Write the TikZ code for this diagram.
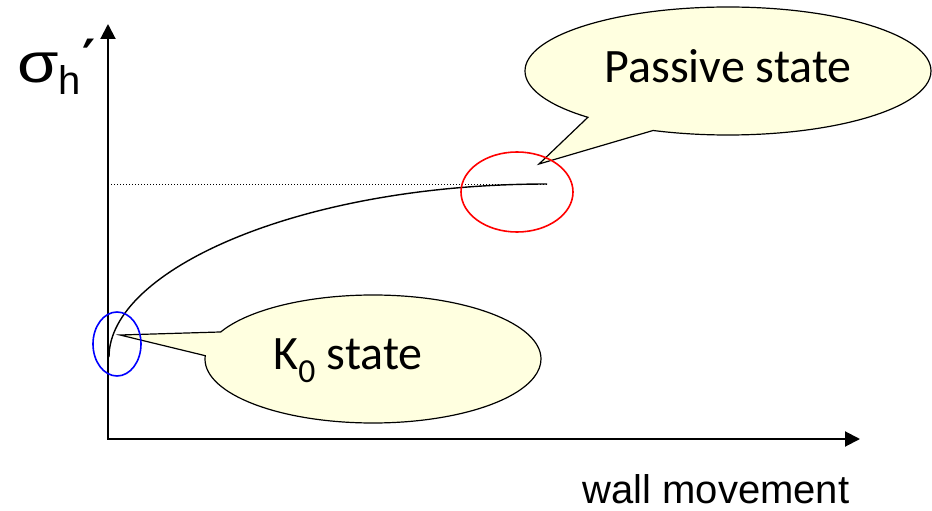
\documentclass[tikz,border=0pt]{standalone}
\usepackage{fontspec}
\setmainfont{Liberation Sans}
\newfontfamily\calibri{Carlito}
\newfontfamily\dejavu{DejaVu Sans}
\usepackage{tikz}
\usetikzlibrary{arrows.meta, shapes.callouts}
\definecolor{bubblefill}{RGB}{255,255,224}

\begin{document}
\begin{tikzpicture}[x=1pt, y=-1pt,
        axis/.style={line width=2pt, {Triangle[width=15pt, length=15pt]}-{Triangle[width=15pt, length=15pt]}},
        bubble/.style={ellipse callout, draw, line width=1.2pt, fill=bubblefill, inner sep=0pt, callout pointer arc=22},
        bubbletext/.style={font=\calibri\fontsize{48}{48}\selectfont, anchor=base, inner sep=0pt},
        marker/.style={line width=1.6pt}]
        \useasboundingbox (0,0) rectangle (932,511);

        % axes
        \coordinate (origin) at (108,439);
        \coordinate (ytop) at (108,24);
        \coordinate (xend) at (860,439);
        \draw[axis] (ytop) -- (origin) -- (xend);

        \node[anchor=base west, inner sep=0pt] (ylabel) at (17,82) {\fontsize{56}{56}\selectfont\scalebox{1.2}[1]{σ}\raisebox{-13pt}{\fontsize{40}{40}\selectfont h}\hspace{2pt}\raisebox{6pt}{\dejavu\bfseries\fontsize{50}{50}\selectfont ′}};
        \node[anchor=base, inner sep=0pt] (xlabel) at (716,503) {\fontsize{40}{40}\selectfont wall movement};

        % stress curve
        \coordinate (kzeropt) at (109,357);
        \coordinate (peak) at (547,184);
        \coordinate (peakref) at (108,184);
        \draw[dotted, line width=1pt] (peakref) -- (peak);
        \draw[line width=1.4pt] (kzeropt) .. controls (109,270) and (300,184) .. (peak);

        % callouts
        \coordinate (ptip) at (539,164);
        \coordinate (ktip) at (120,335);
        \node[bubble, minimum width=406pt, minimum height=128pt, callout absolute pointer=(ptip)] (passive) at (728,71) {};
        \node[bubbletext] (passivetext) at (728,82) {Passive state};
        \node[bubble, minimum width=336pt, minimum height=128pt, callout absolute pointer=(ktip)] (kzero) at (373,359) {};
        \node[bubbletext] (kzerotext) at (348,369) {K\textsubscript{0} state};

        \draw[marker, red] (517,192) ellipse [x radius=56, y radius=40];
        \draw[marker, blue] (117,344) ellipse [x radius=24, y radius=32];
    \end{tikzpicture}
\end{document}
